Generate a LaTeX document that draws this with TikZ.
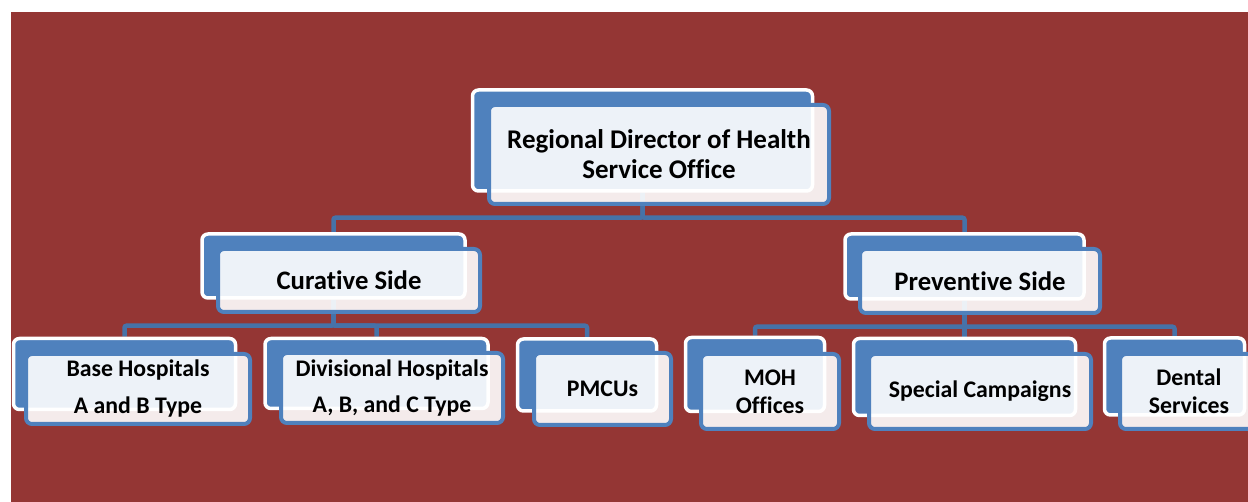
\documentclass[tikz,border=0pt]{standalone}
\usepackage{fontspec}
\setmainfont{Carlito}[Ligatures=NoCommon]
\pgfdeclarelayer{bg}
\pgfdeclarelayer{connlayer}
\pgfsetlayers{bg,connlayer,main}
\definecolor{bgred}{RGB}{148,54,52}
\definecolor{boxblue}{RGB}{79,129,189}
\definecolor{connblue}{RGB}{70,114,168}
\tikzset{
  backbox/.style={rectangle, rounded corners=6pt, fill=boxblue, draw=white, line width=3.5pt, inner sep=0pt},
  frontbox/.style={rectangle, rounded corners=6pt, draw=boxblue, line width=4pt, fill=white, fill opacity=0.9, text opacity=1, draw opacity=1, inner sep=0pt, align=center, text=black},
  conn/.style={draw=connblue, line width=4.5pt, rounded corners=2pt},
  fa/.style={font=\fontsize{27}{30}\selectfont\bfseries},
  fb/.style={font=\fontsize{26.7}{30}\selectfont\bfseries},
  fc/.style={font=\fontsize{23.8}{28}\selectfont\bfseries},
}
\begin{document}
\begin{tikzpicture}[x=1pt,y=-1pt]
\useasboundingbox (0,0) rectangle (1248,502);
\clip (0,0) rectangle (1248,502);
\begin{pgfonlayer}{bg}
\fill[bgred] (11,12) rectangle (1260,510);
\end{pgfonlayer}
% level 1
\node[backbox, minimum width=340pt, minimum height=101pt] (topB) at (642.5,140.5) {};
\node[frontbox, fa, minimum width=340pt, minimum height=99pt] (top) at (659,154.5) {Regional Director of Health\\Service Office};
% level 2
\node[backbox, minimum width=263pt, minimum height=64pt] (curB) at (333.5,266) {};
\node[frontbox, fb, minimum width=262pt, minimum height=63pt] (cur) at (349,280.5) {Curative Side};
\node[backbox, minimum width=239pt, minimum height=65pt] (prevB) at (964.5,266.5) {};
\node[frontbox, fb, minimum width=240pt, minimum height=64pt] (prev) at (980,281) {Preventive Side};
% level 3
\node[backbox, minimum width=222pt, minimum height=71pt] (baseB) at (124.5,374) {};
\node[frontbox, fc, minimum width=224pt, minimum height=70pt] (base) at (138,389) {Base Hospitals\\[9pt]A and B Type};
\node[backbox, minimum width=223pt, minimum height=70pt] (divB) at (376.5,373.5) {};
\node[frontbox, fc, minimum width=222pt, minimum height=70pt] (div) at (392,388) {Divisional Hospitals\\[8pt]A, B, and C Type};
\node[backbox, minimum width=139pt, minimum height=72pt] (pmcuB) at (587,375) {};
\node[frontbox, fc, minimum width=137pt, minimum height=72pt] (pmcu) at (602.5,389) {PMCUs};
\node[backbox, minimum width=139pt, minimum height=74pt] (mohB) at (755,374.5) {};
\node[frontbox, fc, minimum width=138pt, minimum height=75pt] (moh) at (770,391.5) {MOH\\Offices};
\node[backbox, minimum width=222pt, minimum height=77pt] (specB) at (964.5,377) {};
\node[frontbox, fc, minimum width=222pt, minimum height=75pt] (spec) at (980,391.5) {Special Campaigns};
\node[backbox, minimum width=140pt, minimum height=77pt] (dentB) at (1174.5,376.5) {};
\node[frontbox, fc, minimum width=138pt, minimum height=75pt] (dent) at (1189,391.5) {Dental\\Services};
% connectors
\begin{pgfonlayer}{connlayer}
\draw[conn] (topB.south) -- ++(0,25) -| (curB.north);
\draw[conn] (topB.south) -- ++(0,25) -| (prevB.north);
\draw[conn] (curB.south) -- ++(0,26) -| (baseB.north);
\draw[conn] (curB.south) -- ++(0,26) -| (divB.north);
\draw[conn] (curB.south) -- ++(0,26) -| (pmcuB.north);
\draw[conn] (prevB.south) -- ++(0,26) -| (mohB.north);
\draw[conn] (prevB.south) -- ++(0,26) -| (specB.north);
\draw[conn] (prevB.south) -- ++(0,26) -| (dentB.north);
\end{pgfonlayer}
\end{tikzpicture}
\end{document}
